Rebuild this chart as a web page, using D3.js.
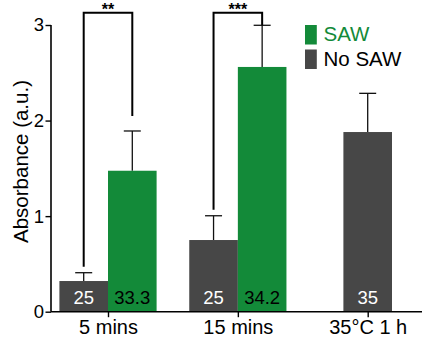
<!DOCTYPE html>
<html>
<head>
<meta charset="utf-8">
<script src="https://cdn.jsdelivr.net/npm/d3@7/dist/d3.min.js"></script>
<style>
  html, body { margin: 0; padding: 0; background: #fff; }
  svg { display: block; font-family: "Liberation Sans", Arial, Helvetica, sans-serif; }
</style>
</head>
<body>
<svg id="chart" width="422" height="338"></svg>
<script>
// Absorbance by treatment condition
const groups = ["5 mins", "15 mins", "35\u00B0C 1 h"];
const noSawMean = [0.321, 0.750, 1.880];
const noSawErr = [0.087, 0.254, 0.405];
const noSawLabel = ["25", "25", "35"];
const sawMean = [1.475, 2.561, null];
const sawErr = [0.416, 0.436, null];
const sawLabel = ["33.3", "34.2", null];
const significance = ["**", "***"];
const yTicks = [0, 1, 2, 3];
const legendItems = ["SAW", "No SAW"];

const GREEN = "#138A39";
const GREY = "#474747";
const barW = 48.6;
const capW = 17;

const svg = d3.select("#chart");

const y = d3.scaleLinear().domain([0, 3]).range([311.7, 25]);
const x = d3.scalePoint().domain(groups).range([108, 367.7]);

// bar records: no-SAW bar sits left of the group centre when a SAW bar exists
const bars = [];
groups.forEach((g, i) => {
  const paired = sawMean[i] != null;
  bars.push({ g, i, kind: "noSaw", v: noSawMean[i], e: noSawErr[i], label: noSawLabel[i],
              x0: paired ? x(g) - barW : x(g) - barW / 2, fill: GREY, text: "#fff" });
  if (paired) {
    bars.push({ g, i, kind: "saw", v: sawMean[i], e: sawErr[i], label: sawLabel[i],
                x0: x(g), fill: GREEN, text: "#000" });
  }
});

// error bars (upper only), drawn behind the bars
const eb = svg.append("g").attr("stroke", "#111").attr("stroke-width", 1.3);
bars.forEach(b => {
  const cx = b.x0 + barW / 2;
  eb.append("line").attr("x1", cx).attr("x2", cx).attr("y1", y(b.v)).attr("y2", y(b.v + b.e));
  eb.append("line").attr("x1", cx - capW / 2).attr("x2", cx + capW / 2)
    .attr("y1", y(b.v + b.e)).attr("y2", y(b.v + b.e));
});

svg.append("g").selectAll("rect").data(bars).join("rect")
  .attr("x", d => d.x0)
  .attr("width", barW)
  .attr("y", d => y(d.v))
  .attr("height", d => y(0) - y(d.v))
  .attr("fill", d => d.fill);

svg.append("g").selectAll("text").data(bars).join("text")
  .attr("x", d => d.x0 + barW / 2)
  .attr("y", 304)
  .attr("text-anchor", "middle")
  .attr("font-size", 18.5)
  .attr("fill", d => d.text)
  .text(d => d.label);

// significance brackets between paired bars
const bracketTop = 12.7;
const legGap = [[6, 15], [6, 0]];
const br = svg.append("g");
significance.forEach((s, i) => {
  const g = groups[i];
  const xl = x(g) - barW / 2, xr = x(g) + barW / 2;
  const yl = y(noSawMean[i] + noSawErr[i]) - legGap[i][0];
  const yr = y(sawMean[i] + sawErr[i]) - legGap[i][1];
  br.append("path")
    .attr("d", `M${xl},${yl}V${bracketTop}H${xr}V${yr}`)
    .attr("fill", "none").attr("stroke", "#000").attr("stroke-width", 2);
  br.append("text")
    .attr("x", x(g)).attr("y", 14.5)
    .attr("text-anchor", "middle")
    .attr("font-size", 16).attr("font-weight", "bold")
    .text(s);
});

// y axis
const yAxis = svg.append("g")
  .attr("transform", "translate(51,0)")
  .call(d3.axisLeft(y).tickValues(yTicks).tickFormat(d3.format("d")).tickSize(5.5).tickPadding(1.5));
yAxis.select(".domain").attr("stroke-width", 1.6).attr("d", `M0,${y(0)}V${y(3)}`);
yAxis.selectAll(".tick line").attr("stroke-width", 1.4);
yAxis.selectAll(".tick text").attr("font-size", 18.5).attr("fill", "#000")
  .attr("font-family", "\"Liberation Sans\", Arial, sans-serif");

// x axis
const xAxis = svg.append("g")
  .attr("transform", `translate(0,${y(0)})`)
  .call(d3.axisBottom(x).tickSize(5.5).tickPadding(2.5));
xAxis.select(".domain").attr("stroke-width", 1.6).attr("d", "M51,0H422");
xAxis.selectAll(".tick line").attr("stroke-width", 1.4);
xAxis.selectAll(".tick text").attr("font-size", 20).attr("fill", "#000")
  .attr("font-family", "\"Liberation Sans\", Arial, sans-serif");

svg.append("text")
  .attr("transform", "translate(28,161.5) rotate(-90)")
  .attr("text-anchor", "middle")
  .attr("font-size", 20.5)
  .text("Absorbance (a.u.)");

// legend
const leg = svg.append("g").attr("transform", "translate(305,25)");
legendItems.forEach((name, i) => {
  const c = i === 0 ? GREEN : GREY;
  leg.append("rect").attr("x", 0).attr("y", i * 24.5).attr("width", 11.8).attr("height", 19.5).attr("fill", c);
  leg.append("text").attr("x", 18.5).attr("y", 16 + i * 24.6)
    .attr("font-size", 20.5).attr("fill", i === 0 ? GREEN : "#000").text(name);
});
</script>
</body>
</html>
